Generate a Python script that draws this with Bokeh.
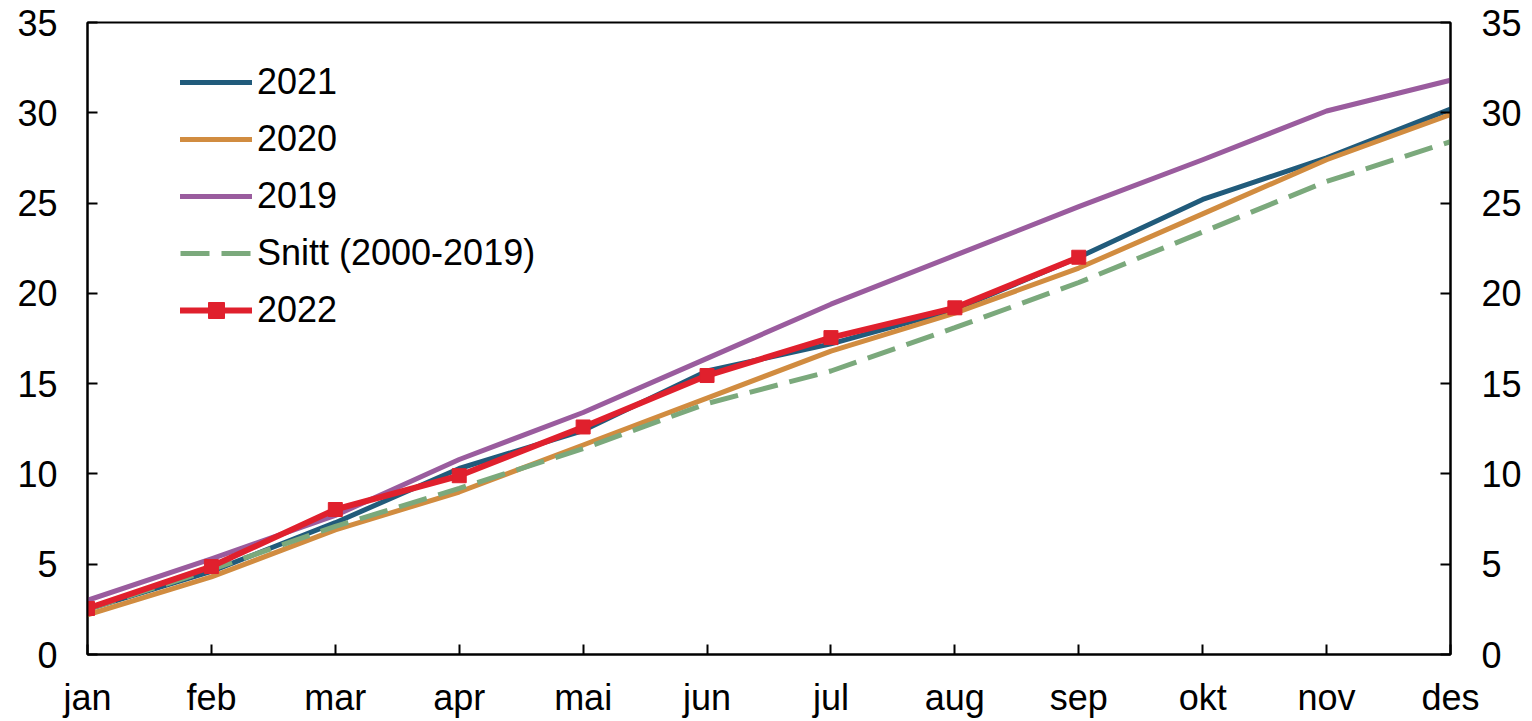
from bokeh.plotting import figure
from bokeh.models import (Range1d, LinearAxis, FixedTicker, Legend, LegendItem)
from bokeh.embed import file_html
from bokeh.resources import INLINE

months = ["jan", "feb", "mar", "apr", "mai", "jun", "jul", "aug", "sep", "okt", "nov", "des"]
y2021 = [2.5, 4.6, 7.3, 10.3, 12.4, 15.7, 17.2, 19.1, 22.0, 25.2, 27.5, 30.2]
y2020 = [2.2, 4.3, 6.9, 9.0, 11.6, 14.2, 16.8, 18.9, 21.4, 24.4, 27.4, 29.9]
y2019 = [3.0, 5.3, 7.7, 10.8, 13.4, 16.4, 19.4, 22.1, 24.8, 27.4, 30.1, 31.8]
snitt = [2.5, 4.7, 7.1, 9.2, 11.4, 13.9, 15.7, 18.1, 20.6, 23.4, 26.2, 28.4]
y2022 = [2.55, 4.87, 8.03, 9.9, 12.6, 15.45, 17.55, 19.2, 22.0]
y_ticks = [0, 5, 10, 15, 20, 25, 30, 35]

x_all = list(range(len(months)))
x22 = list(range(len(y2022)))

FONT = "Liberation Sans"
FS = "36px"

p = figure(width=1532, height=721, output_backend="svg", toolbar_location=None,
           x_range=Range1d(0, 11), y_range=Range1d(0, 35),
           min_border_left=87, min_border_right=82, min_border_top=22, min_border_bottom=67,
           y_axis_location="left")

p.xgrid.visible = False
p.ygrid.visible = False
p.outline_line_color = "black"
p.outline_line_width = 2
p.background_fill_color = "white"
p.border_fill_color = "white"

c2021 = "#215B7B"
c2020 = "#D18C40"
c2019 = "#9A5C9E"
csn = "#7BA97C"
c2022 = "#E0202D"

r21 = p.line(x_all, y2021, line_color=c2021, line_width=5, line_join="round", line_cap="round")
r20 = p.line(x_all, y2020, line_color=c2020, line_width=5, line_join="round", line_cap="round")
r19 = p.line(x_all, y2019, line_color=c2019, line_width=5, line_join="round", line_cap="round")
rsn = p.line(x_all, snitt, line_color=csn, line_width=5, line_dash="29 12")
r22 = p.line(x22, y2022, line_color=c2022, line_width=6, line_join="round", line_cap="round")
r22m = p.scatter(x22, y2022, marker="square", size=14, fill_color=c2022, line_color=c2022)

def style_axis(ax, standoff):
    ax.axis_line_color = "black"
    ax.axis_line_width = 2
    ax.major_tick_line_color = "black"
    ax.major_tick_line_width = 2
    ax.major_tick_in = 10
    ax.major_tick_out = 0
    ax.minor_tick_line_color = None
    ax.major_label_text_font = FONT
    ax.major_label_text_font_size = FS
    ax.major_label_text_color = "black"
    ax.major_label_standoff = standoff

xax = p.xaxis[0]
xax.ticker = FixedTicker(ticks=x_all)
xax.major_label_overrides = {i: m for i, m in enumerate(months)}
style_axis(xax, 22)

yax = p.yaxis[0]
yax.ticker = FixedTicker(ticks=y_ticks)
style_axis(yax, 30)

ry = LinearAxis(ticker=FixedTicker(ticks=y_ticks))
style_axis(ry, 31)
p.add_layout(ry, "right")

legend = Legend(items=[
    LegendItem(label="2021", renderers=[r21]),
    LegendItem(label="2020", renderers=[r20]),
    LegendItem(label="2019", renderers=[r19]),
    LegendItem(label="Snitt (2000-2019)", renderers=[rsn]),
    LegendItem(label="2022", renderers=[r22, r22m]),
], location=(93, 323))
legend.border_line_color = None
legend.background_fill_alpha = 0
legend.padding = 0
legend.margin = 0
legend.spacing = 15
legend.glyph_width = 72
legend.glyph_height = 40
legend.label_height = 40
legend.label_standoff = 5
legend.label_text_font = FONT
legend.label_text_font_size = FS
legend.label_text_color = "black"
p.add_layout(legend, "center")

open("out.html", "w").write(file_html(p, INLINE))
